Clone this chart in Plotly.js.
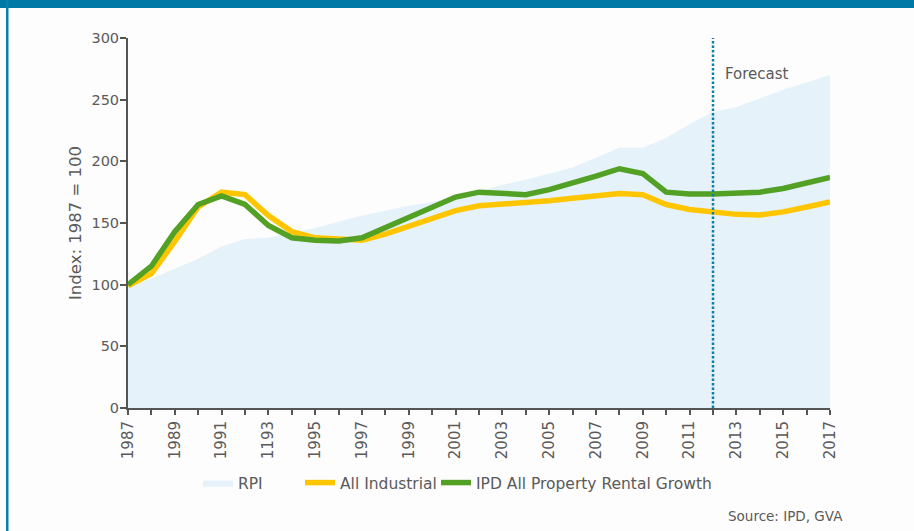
<!DOCTYPE html>
<html>
<head>
<meta charset="utf-8">
<script src="https://cdn.plot.ly/plotly-3.0.1.min.js"></script>
<style>
html,body{margin:0;padding:0;background:#fdfdfd;}
#chart{width:914px;height:531px;}
</style>
</head>
<body>
<div id="chart"></div>
<script>
// ---- data ----
var years = [1987,1988,1989,1990,1991,1992,1993,1994,1995,1996,1997,1998,1999,2000,2001,2002,2003,2004,2005,2006,2007,2008,2009,2010,2011,2012,2013,2014,2015,2016,2017];
var rpi = [100,105,113,121,131,137,138,142,146,151,156,160,164,167,171,176,181,185,190,195,203,211,211,219,230,240,244,251,258,264,270];
var allIndustrial = [99,109,135,163,175,173,156,143,138,137,136,141,147,154,160,164,165,166,168,170,172,174,173,165,161,159,157,156.5,159,163,167];
var ipdAllProperty = [100,115,143,165,172,165,148,138,136,135.5,138,146,154,162,171,175,174,173,177,182,188,194,190,175,173.5,173.5,174,175,178,182,187];
var xTickVals = [1987,1989,1991,1993,1995,1997,1999,2001,2003,2005,2007,2009,2011,2013,2015,2017];
var xTickText = ['1987','1989','1991','1193','1995','1997','1999','2001','2003','2005','2007','2009','2011','2013','2015','2017'];
var yTickVals = [0,50,100,150,200,250,300];
var seriesNames = ['RPI','All Industrial','IPD All Property Rental Growth'];
var forecastYear = 2012;
var forecastLabel = 'Forecast';
var yTitle = 'Index: 1987 = 100';
var sourceText = 'Source: IPD, GVA';

var FONT = 'DejaVu Sans, sans-serif';
var GREY = '#5a5a5a';

var traces = [
  {x: years, y: rpi, name: seriesNames[0], type: 'scatter', mode: 'lines',
   fill: 'tozeroy', fillcolor: '#e5f2fa', line: {width: 0, color: '#e5f2fa'}, legend: 'legend'},
  {x: years, y: allIndustrial, name: seriesNames[1], type: 'scatter', mode: 'lines',
   line: {color: '#ffc600', width: 5.5}, legend: 'legend2'},
  {x: years, y: ipdAllProperty, name: seriesNames[2], type: 'scatter', mode: 'lines',
   line: {color: '#52a024', width: 5.5}, legend: 'legend3'}
];

function px2x(px){ return (px - 128) / 702; }
function py2y(py){ return (408 - py) / 370; }

var legBase = {orientation: 'h', xanchor: 'left', yanchor: 'top', y: py2y(466),
  font: {family: FONT, size: 15.5, color: GREY}, bgcolor: 'rgba(0,0,0,0)', borderwidth: 0};

var layout = {
  width: 914, height: 531,
  margin: {l: 128, r: 84, t: 38, b: 123},
  paper_bgcolor: '#fdfdfd', plot_bgcolor: 'rgba(0,0,0,0)',
  font: {family: FONT, size: 14, color: GREY},
  xaxis: {range: [1987, 2017], tickmode: 'array', tickvals: xTickVals, ticktext: xTickText,
    tickangle: -90, ticks: 'outside', ticklen: 5, tickwidth: 2, tickcolor: '#555',
    showline: true, linecolor: '#555', linewidth: 2, showgrid: false, zeroline: false,
    tickfont: {family: FONT, size: 15, color: GREY},
    minor: {tickmode: 'linear', tick0: 1987, dtick: 1, ticks: 'outside', ticklen: 5, tickwidth: 2, tickcolor: '#555', showgrid: false}},
  yaxis: {range: [0, 300], tickmode: 'array', tickvals: yTickVals, ticks: 'outside', ticklen: 6,
    tickwidth: 2, tickcolor: '#555', showline: true, linecolor: '#555', linewidth: 2,
    showgrid: false, zeroline: false, tickfont: {family: FONT, size: 14.5, color: GREY},
    ticklabelstandoff: -2,
    title: {text: yTitle, font: {family: FONT, size: 16.5, color: GREY}, standoff: 6}},
  showlegend: true,
  legend: Object.assign({}, legBase, {x: px2x(198)}),
  legend2: Object.assign({}, legBase, {x: px2x(300)}),
  legend3: Object.assign({}, legBase, {x: px2x(436)}),
  shapes: [
    {type: 'rect', xref: 'paper', yref: 'paper', x0: px2x(0), x1: px2x(914), y0: py2y(8), y1: py2y(0),
     fillcolor: '#0079a7', line: {width: 0}, layer: 'above'},
    {type: 'rect', xref: 'paper', yref: 'paper', x0: px2x(6), x1: px2x(8.5), y0: py2y(531), y1: py2y(0),
     fillcolor: '#0a7fae', line: {width: 0}, layer: 'above'},
    {type: 'line', xref: 'x', yref: 'paper', x0: forecastYear, x1: forecastYear, y0: 0, y1: 1,
     line: {color: '#0b7fb0', width: 2.5, dash: '2.5px,2px'}, layer: 'above'}
  ],
  annotations: [
    {xref: 'x', yref: 'y', x: forecastYear, y: 271, xanchor: 'left', yanchor: 'middle', xshift: 10,
     text: forecastLabel, showarrow: false, font: {family: FONT, size: 15, color: GREY}},
    {xref: 'paper', yref: 'paper', x: px2x(726), y: py2y(516), xanchor: 'left', yanchor: 'middle',
     text: sourceText, showarrow: false, font: {family: FONT, size: 13.5, color: GREY}}
  ]
};

Plotly.newPlot('chart', traces, layout, {displayModeBar: false, staticPlot: true});
</script>
</body>
</html>
